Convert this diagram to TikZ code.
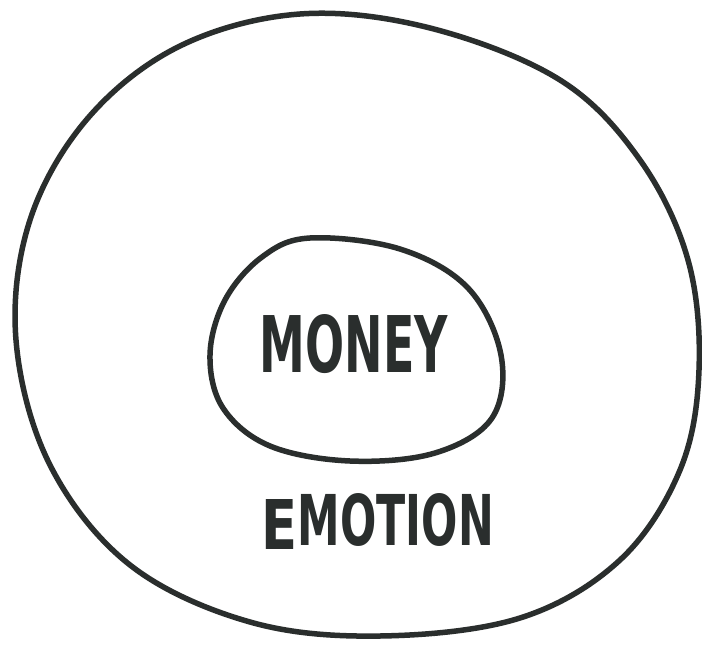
\documentclass[tikz,border=0pt]{standalone}
\usepackage{fontspec}
\setmainfont{DejaVu Sans}
\usepackage{graphicx}
\definecolor{ink}{HTML}{2A2E2D}
\begin{document}
\begin{tikzpicture}[x=1pt,y=-1pt,
  sketch/.style={draw=ink,line width=5.5pt,line cap=round,line join=round},
  word/.style={text=ink,inner sep=0pt,font=\bfseries}]
\useasboundingbox[fill=white] (0,0) rectangle (702,645);
% outer circle
\path[sketch] plot[smooth cycle,tension=0.6] coordinates {
 (300,14) (430,28) (560,80) (640,160) (688,260) (699,370) (680,470)
 (620,560) (520,618) (380,636) (250,622) (130,565) (50,465) (16,340)
 (30,220) (88,118) (180,46)};
% inner oval
\path[sketch] plot[smooth cycle,tension=0.6] coordinates {
 (310,238) (400,249) (468,288) (501,355) (492,418) (435,453) (350,461)
 (270,446) (223,408) (210,355) (225,300) (262,257)};
\node[word] (money) at (354,344) {\resizebox{188pt}{58pt}{MONEY}};
\node[word] (e) at (280,524) {\resizebox{36pt}{50pt}{E}};
\node[word] (motion) at (396,520) {\resizebox{196pt}{52pt}{MOTION}};
\end{tikzpicture}
\end{document}
